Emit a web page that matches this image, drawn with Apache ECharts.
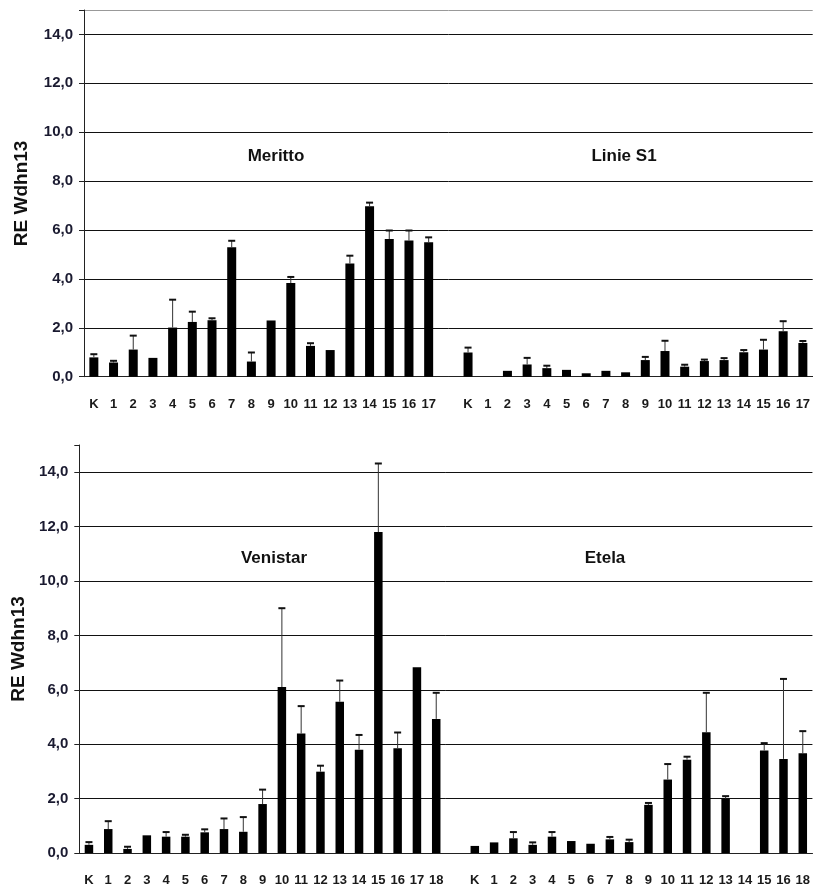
<!DOCTYPE html>
<html><head><meta charset="utf-8">
<script src="https://cdn.jsdelivr.net/npm/echarts@6/dist/echarts.min.js"></script>
<style>html,body{margin:0;padding:0;background:#fff}#c{width:813px;height:887px}</style>
</head><body><div id="c"></div>
<script>
// ---- data ----
const merittoCats = ['K','1','2','3','4','5','6','7','8','9','10','11','12','13','14','15','16','17'];
const merittoVals = [0.79,0.58,1.11,0.77,2.01,2.24,2.31,5.30,0.62,2.30,3.83,1.26,1.09,4.63,6.97,5.63,5.57,5.50];
const merittoErrTop = [0.92,0.65,1.68,null,3.15,2.66,2.39,5.56,0.99,null,4.08,1.37,null,4.95,7.12,5.98,5.98,5.70];

const linieCats = ['K','1','2','3','4','5','6','7','8','9','10','11','12','13','14','15','16','17'];
const linieVals = [0.99,null,0.24,0.50,0.35,0.28,0.14,0.24,0.18,0.68,1.05,0.41,0.64,0.68,1.00,1.11,1.86,1.38];
const linieErrTop = [1.19,null,null,0.77,0.45,null,null,null,null,0.81,1.47,0.49,0.70,0.76,1.09,1.51,2.27,1.46];

const venistarCats = ['K','1','2','3','4','5','6','7','8','9','10','11','12','13','14','15','16','17','18'];
const venistarVals = [0.30,0.88,0.15,0.65,0.60,0.60,0.76,0.88,0.78,1.80,6.10,4.39,2.99,5.56,3.80,11.80,3.85,6.83,4.93];
const venistarErrTop = [0.40,1.17,0.23,null,0.77,0.67,0.87,1.27,1.32,2.33,9.00,5.40,3.21,6.34,4.34,14.32,4.43,null,5.89];

const etelaCats = ['K','1','2','3','4','5','6','7','8','9','10','11','12','13','14','15','16','18'];
const etelaVals = [0.26,0.39,0.54,0.30,0.60,0.44,0.34,0.50,0.40,1.77,2.70,3.43,4.44,2.00,null,3.77,3.46,3.67];
const etelaErrTop = [null,null,0.77,0.39,0.77,null,null,0.59,0.49,1.84,3.27,3.54,5.89,2.09,null,4.04,6.40,4.48];

const yTickLabels = ['0,0','2,0','4,0','6,0','8,0','10,0','12,0','14,0'];
const yAxisTitle = 'RE Wdhn13';
const panelTitles = ['Meritto','Linie S1','Venistar','Etela'];

// ---- build ----
const topCats = merittoCats.concat([''], linieCats);
const topVals = merittoVals.concat([null], linieVals);
const topErr = merittoErrTop.concat([null], linieErrTop);
const botCats = venistarCats.concat([''], etelaCats);
const botVals = venistarVals.concat([null], etelaVals);
const botErr = venistarErrTop.concat([null], etelaErrTop);

function errData(vals, errs){
  const out = [];
  vals.forEach((v,i)=>{ if(v!=null && errs[i]!=null) out.push([i, v, errs[i]]); });
  return out;
}
function renderErr(params, api){
  const x = api.value(0), v = api.value(1), hi = api.value(2);
  const p0 = api.coord([x, v]);
  const p1 = api.coord([x, hi]);
  const w = 7;
  return {type:'group', children:[
    {type:'line', shape:{x1:p0[0], y1:p0[1], x2:p1[0], y2:p1[1]}, style:{stroke:'#333', lineWidth:1}},
    {type:'line', shape:{x1:p1[0]-w/2, y1:p1[1], x2:p1[0]+w/2, y2:p1[1]}, style:{stroke:'#111', lineWidth:2}}
  ]};
}

const FONT = "'Liberation Sans', Arial, sans-serif";

function xAxisCfg(gi, data){
  return {
    type:'category', gridIndex:gi, data:data,
    axisLine:{lineStyle:{color:'#222', width:1}},
    axisTick:{interval:0, length:6, lineStyle:{color:'#222'}},
    axisLabel:{interval:0, margin:21, fontSize:13, fontWeight:'bold', color:'#1a1a1a', fontFamily:FONT}
  };
}
function yAxisCfg(gi, gap, topColor){
  return {
    type:'value', gridIndex:gi, min:0, max:15, interval:2,
    axisLine:{show:true, lineStyle:{color:'#222', width:1}},
    axisTick:{show:true, length:5, lineStyle:{color:'#222'}},
    axisLabel:{margin:11, fontSize:15, fontWeight:'bold', color:'#1a1a30', fontFamily:FONT,
      formatter:function(v){ const l = yTickLabels[v/2]; return l===undefined ? '' : l; }},
    splitLine:{show:true, lineStyle:{width:1, color:['#111','#111','#111','#111','#111','#111','#111','#111',topColor]}},
    name:yAxisTitle, nameLocation:'middle', nameGap:gap,
    nameTextStyle:{fontSize:19, fontWeight:'bold', color:'#111', fontFamily:FONT}
  };
}
function titleCfg(text, x, y){
  return {text:text, left:x, top:y, textAlign:'center',
    textStyle:{fontSize:17, fontWeight:'bold', color:'#111', fontFamily:FONT}};
}

const chart = echarts.init(document.getElementById('c'), null, {renderer:'canvas'});
chart.setOption({
  animation:false,
  backgroundColor:'#fff',
  title:[
    titleCfg(panelTitles[0], 271, 143),
    titleCfg(panelTitles[1], 619, 143),
    titleCfg(panelTitles[2], 269, 545),
    titleCfg(panelTitles[3], 600, 545)
  ],
  grid:[
    {left:84, top:10, width:735, height:366.7},
    {left:79.3, top:445, width:734.6, height:408.7}
  ],
  xAxis:[xAxisCfg(0, topCats), xAxisCfg(1, botCats)],
  yAxis:[yAxisCfg(0, 53, '#999'), yAxisCfg(1, 48, 'rgba(0,0,0,0)')],
  series:[
    {type:'bar', xAxisIndex:0, yAxisIndex:0, data:topVals, barWidth:9, itemStyle:{color:'#000'}},
    {type:'custom', xAxisIndex:0, yAxisIndex:0, data:errData(topVals, topErr), renderItem:renderErr, z:5},
    {type:'bar', xAxisIndex:1, yAxisIndex:1, data:botVals, barWidth:8.5, itemStyle:{color:'#000'}},
    {type:'custom', xAxisIndex:1, yAxisIndex:1, data:errData(botVals, botErr), renderItem:renderErr, z:5}
  ]
});
</script></body></html>
